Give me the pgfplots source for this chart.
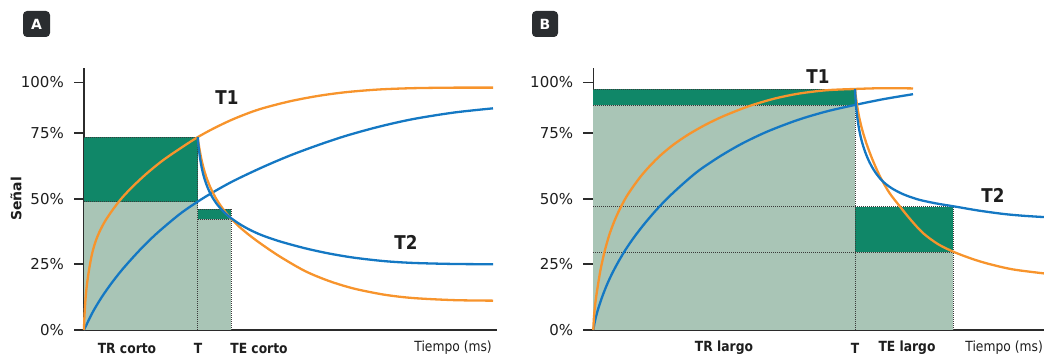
\documentclass[border=0pt]{standalone}
\usepackage{pgfplots}
\pgfplotsset{compat=1.18}
\usepackage{fontspec}
\setmainfont{DejaVu Sans}
\newfontfamily\cond[FakeStretch=0.88]{DejaVu Sans}
\definecolor{orng}{HTML}{F7942C}
\definecolor{blu}{HTML}{1478C3}
\definecolor{dgrn}{HTML}{108768}
\definecolor{lgrn}{HTML}{A9C5B6}
\definecolor{axc}{HTML}{2B2B2B}
\definecolor{txt}{HTML}{1E1E1E}
\definecolor{boxc}{HTML}{2A2D30}
\definecolor{dotc}{HTML}{3A3A3A}

\pgfplotsset{
  panel/.style={
    anchor=south west, scale only axis, height=262pt,
    ymin=0, ymax=100,
    axis x line=bottom, axis y line=left,
    axis line style={-, line width=1.6pt, color=axc},
    xtick=\empty,
    ytick={0,25.2,50,75.2,94.5},
    yticklabels={0\%,25\%,50\%,75\%,100\%},
    tick align=outside, major tick length=10pt,
    y tick style={line width=1.4pt, color=axc},
    yticklabel style={font=\fontsize{15}{18}\selectfont, text=txt, inner sep=0pt, xshift=-10pt},
    clip=false,
  },
  curveO/.style={color=orng, line width=2.3pt, smooth, tension=0.5},
  curveB/.style={color=blu, line width=2.3pt, smooth, tension=0.5},
  dotl/.style={color=dotc, line width=0.8pt, dash pattern=on 0.9pt off 1.1pt},
}

\begin{document}
\begin{tikzpicture}[x=1pt,y=1pt]
\path[use as bounding box] (0,0) rectangle (1044,356);

% ---------------- Panel A ----------------
\begin{axis}[panel, at={(84pt,26pt)}, width=413pt, xmin=0, xmax=413]
\addplot[fill=lgrn, draw=none] coordinates {(0,0) (0,49) (113.7,49) (113.7,0)};
\addplot[fill=lgrn, draw=none] coordinates {(113.7,0) (113.7,42.4) (147,42.4) (147,0)};
\addplot[fill=dgrn, draw=none] coordinates {(0,49) (0,73.6) (113.7,73.6) (113.7,49)};
\addplot[fill=dgrn, draw=none] coordinates {(113.7,42.4) (113.7,46.2) (147,46.2) (147,42.4)};
\addplot[dotl] coordinates {(0,73.6) (113.7,73.6)};
\addplot[dotl] coordinates {(0,49) (113.7,49)};
\addplot[dotl] coordinates {(113.7,0) (113.7,73.6)};
\addplot[dotl] coordinates {(113.7,46.2) (147,46.2)};
\addplot[dotl] coordinates {(113.7,42.4) (147,42.4)};
\addplot[dotl] coordinates {(147,0) (147,46.2)};
% T1 blue
\addplot[curveB] coordinates {(0,0) (5,4.0) (10,7.7) (18,12.7) (27,17.6) (37,22.5) (48,27.3) (60,32.2) (72,36.6) (84.7,40.8) (98,44.9) (113.7,49) (130,52.8) (150,57) (177.7,62) (206,66.6) (235,70.7) (262.7,74.2) (295,77.6) (329,80.5) (370,83.0) (409,84.6)};
% T1 orange
\addplot[curveO] coordinates {(0,0) (0.3,4) (1,9) (2,14) (3.5,19) (5.5,24) (8,29) (11.3,33.5) (15.5,37.5) (21,41.5) (28,45.5) (37,50) (48,54.5) (62,59.5) (78,64.5) (95,69) (113.7,73.6) (130,77) (150,80.6) (175,84.2) (206,87.3) (235,89.4) (262.7,90.8) (295,91.8) (329,92.3) (370,92.5) (409,92.5)};
% T2 orange
\addplot[curveO] coordinates {(113.7,73.6) (114.5,71.4) (115.8,68.4) (117.5,65.0) (120,61.2) (123,57.6) (127,53.9) (132,50.2) (138,46.7) (145,43.4) (155,39.5) (166,36.0) (177.7,32.7) (196,28.0) (221,22.5) (245,18.7) (270,15.8) (300,13.5) (329,12.2) (370,11.4) (409,11.2)};
% T2 blue
\addplot[curveB] coordinates {(113.7,73.6) (114.2,71.5) (115,68.6) (116.3,65) (118,61.4) (120.5,57.7) (124,54) (128,50.9) (133,48) (139,45.4) (146,43.0) (155,40.6) (165,38.4) (177.7,36.2) (196,33.8) (221,31.2) (245,29.2) (270,27.6) (300,26.3) (329,25.6) (370,25.2) (409,25.1)};
\end{axis}

% ---------------- Panel B ----------------
\begin{axis}[panel, at={(593.3pt,26pt)}, width=450.7pt, xmin=0, xmax=450.7]
\addplot[fill=lgrn, draw=none] coordinates {(0,0) (0,85.9) (261.7,85.9) (261.7,0)};
\addplot[fill=lgrn, draw=none] coordinates {(261.7,0) (261.7,29.7) (359.7,29.7) (359.7,0)};
\addplot[fill=dgrn, draw=none] coordinates {(0,85.9) (0,92) (261.7,92) (261.7,85.9)};
\addplot[fill=dgrn, draw=none] coordinates {(261.7,29.7) (261.7,47.1) (359.7,47.1) (359.7,29.7)};
\addplot[dotl] coordinates {(0,92) (261.7,92)};
\addplot[dotl] coordinates {(0,85.9) (261.7,85.9)};
\addplot[dotl] coordinates {(0,47.1) (359.7,47.1)};
\addplot[dotl] coordinates {(0,29.7) (359.7,29.7)};
\addplot[dotl] coordinates {(261.7,0) (261.7,92)};
\addplot[dotl] coordinates {(359.7,0) (359.7,47.1)};
% T1 blue
\addplot[curveB] coordinates {(0,0) (1,2.2) (2.5,4.8) (4.5,7.6) (7,10.6) (10,13.8) (14,17.6) (19,21.7) (25,26.0) (32,30.5) (40,35.0) (50,40.0) (62,45.4) (75,50.6) (90,55.9) (106,61.0) (128,66.6) (150,71.4) (175,75.9) (204.7,80.2) (233,83.4) (261.7,85.9) (290,88.1) (319.7,90.0)};
% T1 orange
\addplot[curveO] coordinates {(0,0) (0.5,4) (1.5,8.5) (3,13) (5,18) (7.5,23.5) (11.3,30) (16,36.3) (21,41.5) (26.3,46.0) (33,50.8) (40,54.8) (48,58.9) (57,62.8) (67,66.6) (80,70.7) (95,74.6) (112,78.3) (130,81.6) (154.7,85.3) (180,88.2) (205,90.2) (233,91.5) (261.7,92.0) (290,92.3) (319.7,92.2)};
% T2 orange
\addplot[curveO] coordinates {(261.7,92) (262.5,89.2) (264,85.2) (266,81.0) (269,76.3) (273.3,71.0) (279,65.2) (286.7,58.6) (296,52.4) (306.7,47.1) (318,41.8) (330,36.9) (345,32.7) (361.7,29.6) (380,27.0) (396.7,25.1) (420,23.1) (450.7,21.6)};
% T2 blue
\addplot[curveB] coordinates {(261.7,92) (262.2,88.5) (263,84.5) (264.3,80.3) (266,76.2) (268.5,72.0) (272,67.8) (276.5,63.8) (282,60.2) (289,56.9) (298,54.2) (310,51.8) (325,49.8) (343,48.3) (362,47.1) (385,45.6) (410,44.3) (430,43.6) (450.7,43.1)};
\end{axis}

% ---------------- Texts ----------------
\begin{scope}[every node/.style={text=txt, inner sep=0pt}]
\node[rotate=90, font=\bfseries\fontsize{14}{16}\selectfont] at (16,157) {Señal};
\node[font=\cond\bfseries\fontsize{19}{22}\selectfont] at (227,258) {T1};
\node[font=\cond\bfseries\fontsize{19}{22}\selectfont] at (406,114) {T2};
\node[font=\cond\bfseries\fontsize{19}{22}\selectfont] at (818,279) {T1};
\node[font=\cond\bfseries\fontsize{19}{22}\selectfont] at (993,161) {T2};
\node[font=\cond\bfseries\fontsize{14}{16}\selectfont] at (127,8) {TR corto};
\node[font=\cond\bfseries\fontsize{14}{16}\selectfont] at (198,8) {T};
\node[font=\cond\bfseries\fontsize{14}{16}\selectfont] at (259,8) {TE corto};
\node[font=\cond\fontsize{14}{16}\selectfont, anchor=east] at (492,8) {Tiempo (ms)};
\node[font=\cond\bfseries\fontsize{14}{16}\selectfont] at (724,8) {TR largo};
\node[font=\cond\bfseries\fontsize{14}{16}\selectfont] at (855,8) {T};
\node[font=\cond\bfseries\fontsize{14}{16}\selectfont] at (907,8) {TE largo};
\node[font=\cond\fontsize{14}{16}\selectfont, anchor=east] at (1043,8) {Tiempo (ms)};
\end{scope}
\fill[boxc, rounded corners=4pt] (23,319) rectangle (50,345);
\node[text=white, font=\bfseries\fontsize{14}{16}\selectfont, inner sep=0pt] at (36.5,332) {A};
\fill[boxc, rounded corners=4pt] (532,319) rectangle (558,345);
\node[text=white, font=\bfseries\fontsize{14}{16}\selectfont, inner sep=0pt] at (545,332) {B};
\end{tikzpicture}
\end{document}
